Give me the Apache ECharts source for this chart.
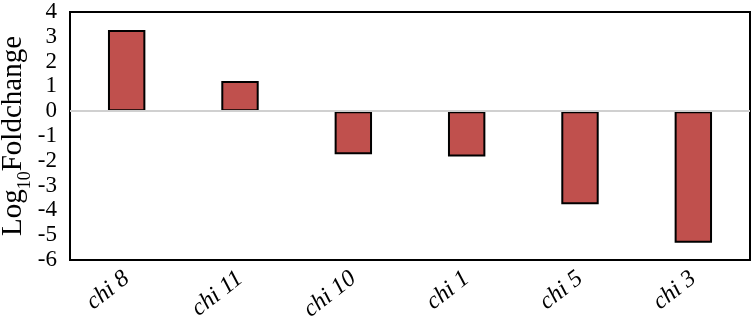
<!DOCTYPE html>
<html>
<head>
<meta charset="utf-8">
<script src="https://cdn.jsdelivr.net/npm/echarts@6/dist/echarts.min.js"></script>
<style>
  html, body { margin: 0; padding: 0; background: #fff; }
  #chart { width: 755px; height: 326px; }
</style>
</head>
<body>
<div id="chart"></div>
<script>
// genes along the x axis
const genes = ['chi 8', 'chi 11', 'chi 10', 'chi 1', 'chi 5', 'chi 3']
// log10 fold change per gene
const foldChange = [3.27, 1.22, -1.74, -1.83, -3.75, -5.30]
const yTicks = { min: -6, max: 4, step: 1 }

const serif = '"Liberation Serif", "Times New Roman", serif'
const chart = echarts.init(document.getElementById('chart'))

chart.setOption({
    animation: false,
    grid: {
        left: 70, right: 5, top: 12, bottom: 66,
        outerBoundsMode: 'none',
        show: true, borderColor: '#000', borderWidth: 2
    },
    xAxis: {
        type: 'category',
        data: genes,
        axisLine: { show: false },
        axisTick: { show: false },
        axisLabel: {
            rotate: 38,
            margin: 16,
            color: '#000',
            fontFamily: serif,
            fontStyle: 'italic',
            fontSize: 24
        }
    },
    yAxis: {
        type: 'value',
        min: yTicks.min,
        max: yTicks.max,
        interval: yTicks.step,
        axisLine: { show: false },
        axisTick: { show: false },
        splitLine: { show: false },
        axisLabel: { color: '#000', fontFamily: serif, fontSize: 23, margin: 13 },
        name: '{a|Log}{b|10}{a|Foldchange}',
        nameLocation: 'middle',
        nameGap: 42,
        nameMoveOverlap: false,
        nameTextStyle: {
            rich: {
                a: { fontFamily: serif, fontSize: 29, color: '#000', lineHeight: 30 },
                b: { fontFamily: serif, fontSize: 18, color: '#000', verticalAlign: 'bottom', lineHeight: 30, padding: [0, 0, -6, 0] }
            }
        }
    },
    series: [{
        type: 'bar',
        data: foldChange,
        barWidth: '33%',
        itemStyle: { color: '#c0504d', borderColor: '#000', borderWidth: 2 },
        markLine: {
            silent: true,
            symbol: 'none',
            label: { show: false },
            lineStyle: { color: '#d0d0d0', type: 'solid', width: 2 },
            data: [{ yAxis: 0 }]
        }
    }]
})
</script>
</body>
</html>
